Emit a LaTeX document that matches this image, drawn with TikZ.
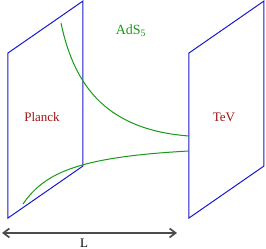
\documentclass[tikz,border=0pt]{standalone}
\usepackage{fontspec}
\setmainfont{Liberation Serif}
\usepackage{tikz}
\usetikzlibrary{arrows.meta,positioning}
\definecolor{braneblue}{rgb}{0.1,0.1,0.8}
\definecolor{bulkgreen}{rgb}{0.1,0.6,0.1}
\definecolor{labelred}{rgb}{0.6,0.08,0.08}

\begin{document}
\begin{tikzpicture}[
  x=1pt, y=-1pt,
  brane/.style={draw=braneblue, line width=1pt, line join=miter},
  warp/.style={draw=bulkgreen, line width=1pt},
  lab/.style={text=labelred, font=\fontsize{13}{15}\selectfont},
  dist/.style={{Straight Barb[length=6pt,width=9pt]}-{Straight Barb[length=6pt,width=9pt]}, draw=black!70, line width=1.7pt}
]
\useasboundingbox (0,0) rectangle (266,249);

% the two branes
\coordinate (pbl) at (8,218);  \coordinate (ptl) at (8,53);
\coordinate (ptr) at (83,1);   \coordinate (pbr) at (83,166);
\coordinate (tbl) at (189,218); \coordinate (ttl) at (189,53);
\coordinate (ttr) at (264,1);   \coordinate (tbr) at (264,166);
\draw[brane] (pbl) -- (ptl) -- (ptr) -- (pbr) -- cycle;
\draw[brane] (tbl) -- (ttl) -- (ttr) -- (tbr) -- cycle;

\node[lab] (planck) at (42,117) {Planck};
\node[lab] (tev)    at (224,117) {TeV};
\node[text=bulkgreen, font=\fontsize{14}{16}\selectfont] (ads) at (131,31) {AdS\textsubscript{5}};

% warped profiles
\coordinate (ua) at (61,23);  \coordinate (ub) at (189,136);
\coordinate (la) at (23,204); \coordinate (lb) at (189,151);
\draw[warp] (ua) .. controls (75,90) and (110,130) .. (ub);
\draw[warp] (la) .. controls (45,172) and (80,157) .. (lb);

% separation
\coordinate (dl) at (2,233); \coordinate (dr) at (177,233);
\draw[dist] (dl) -- (dr);
\node[font=\fontsize{13}{15}\selectfont] (len) at (84,243) {L};
\end{tikzpicture}
\end{document}
